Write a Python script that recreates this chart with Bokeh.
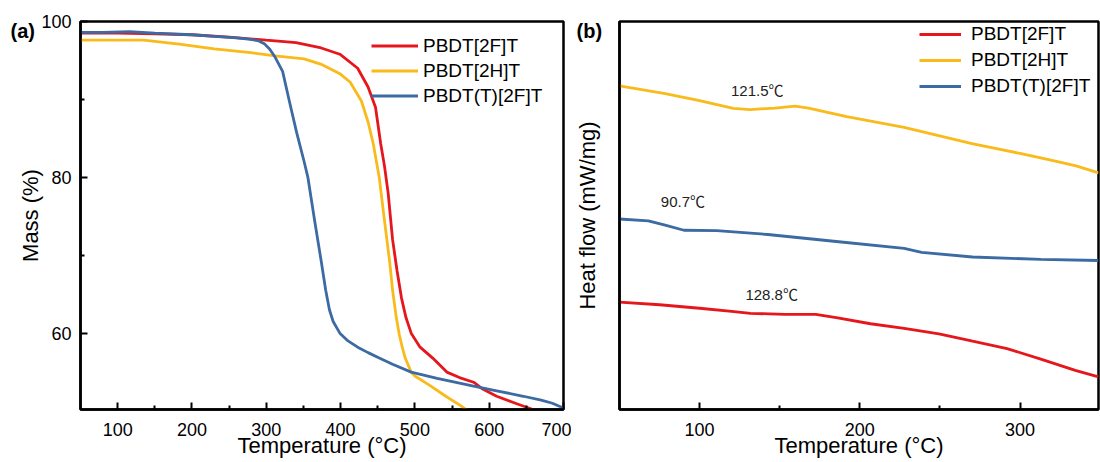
from bokeh.plotting import figure
from bokeh.layouts import row
from bokeh.models import (Legend, LegendItem, LabelSet, FixedTicker,
                          Range1d, ColumnDataSource)
from bokeh.core.properties import value
from bokeh.embed import file_html
from bokeh.resources import INLINE

FONT = "Liberation Sans"

# ---------------- data: (a) TGA ----------------
series_names = ["PBDT[2F]T", "PBDT[2H]T", "PBDT(T)[2F]T"]
series_colors = ["#E5171C", "#F9BB1B", "#3C6AA3"]
panel_tags = ["(a)", "(b)"]

tga_T_2F = [50, 100, 150, 200, 250, 300, 340, 374, 399, 423, 437, 447, 454, 459,
            464, 470, 476, 482, 488, 495, 507, 524, 543, 560, 579, 590, 610, 638, 656, 665]
tga_M_2F = [98.5, 98.5, 98.4, 98.3, 98.0, 97.6, 97.3, 96.6, 95.8, 94.0, 91.6, 89.0, 84.3, 81.5,
            78.0, 72.0, 68.0, 64.5, 62.0, 60.0, 58.2, 56.8, 55.0, 54.3, 53.7, 52.9, 51.9, 50.9, 50.3, 49.9]

tga_T_2H = [50, 100, 135, 183, 230, 279, 312, 351, 374, 399, 413, 428, 437, 444, 449,
            452, 459, 466, 470, 475, 479, 483, 487, 495, 500, 520, 540, 560, 572]
tga_M_2H = [97.6, 97.6, 97.6, 97.1, 96.5, 96.0, 95.6, 95.2, 94.5, 93.3, 92.2, 89.8, 87.1, 84.3, 81.6,
            80.0, 74.5, 69.2, 65.5, 62.0, 59.8, 58.2, 56.8, 55.0, 54.5, 53.3, 52.0, 50.8, 50.0]

tga_T_T2F = [50, 80, 116, 150, 200, 230, 260, 279, 290, 298, 305, 312, 322, 331, 341, 351,
             356, 365, 374, 380, 385, 390, 399, 410, 423, 437, 452, 470, 495, 530, 560,
             579, 610, 646, 670, 685, 700]
tga_M_T2F = [98.6, 98.6, 98.7, 98.5, 98.3, 98.1, 97.9, 97.7, 97.5, 97.1, 96.4, 95.4, 93.6, 89.8, 85.7, 82.0,
             80.0, 74.5, 69.2, 65.5, 63.0, 61.5, 60.0, 59.0, 58.2, 57.5, 56.8, 56.0, 55.0, 54.2, 53.6,
             53.2, 52.6, 51.9, 51.4, 51.0, 50.4]

tga_x_ticks = [100, 200, 300, 400, 500, 600, 700]
tga_x_minor = [150, 250, 350, 450, 550, 650]
tga_y_ticks = [60, 80, 100]
tga_y_minor = [70, 90]

# ---------------- data: (b) DSC (arbitrary heat-flow units) ----------------
dsc_T_2F = [50, 75, 100, 120, 131.7, 153.3, 172.5, 185.3, 206.7, 227.7, 249.4, 270.4, 291.9, 313, 334.5, 349]
dsc_H_2F = [2.77, 2.70, 2.61, 2.53, 2.48, 2.45, 2.45, 2.37, 2.21, 2.09, 1.95, 1.76, 1.57, 1.30, 1.01, 0.84]

dsc_T_2H = [50, 78.5, 100, 121, 131.7, 147, 159.6, 168, 191.8, 227.7, 270, 300, 320, 335, 349]
dsc_H_2H = [8.34, 8.14, 7.96, 7.76, 7.73, 7.77, 7.82, 7.77, 7.55, 7.27, 6.85, 6.60, 6.42, 6.28, 6.10]

dsc_T_T2F = [50, 68, 78.5, 90.2, 110.7, 142.6, 185.3, 227.7, 238.6, 270.4, 313, 349]
dsc_H_T2F = [4.91, 4.86, 4.75, 4.62, 4.61, 4.51, 4.33, 4.15, 4.05, 3.93, 3.87, 3.84]

dsc_x_ticks = [100, 200, 300]
dsc_x_minor = [150, 250]

anno_text = ["121.5\u2103", "90.7\u2103", "128.8\u2103"]
anno_T = [136, 89.6, 145]
anno_H = [8.22, 5.37, 2.97]


def style_axes(p, tag, tag_offset):
    p.xgrid.visible = False
    p.ygrid.visible = False
    p.outline_line_color = "black"
    p.outline_line_width = 2.5
    p.outline_line_alpha = 1.0
    p.background_fill_color = None
    p.border_fill_color = None
    for ax in (p.xaxis[0], p.yaxis[0]):
        ax.axis_line_width = 2.5
        ax.axis_line_color = "black"
        ax.major_tick_line_width = 2
        ax.minor_tick_line_width = 2
        ax.major_tick_line_color = "black"
        ax.minor_tick_line_color = "black"
        ax.major_tick_in = 7
        ax.major_tick_out = 0
        ax.minor_tick_in = 4
        ax.minor_tick_out = 0
        ax.major_label_text_font = FONT
        ax.major_label_text_font_size = "18px"
        ax.major_label_text_color = "black"
        ax.axis_label_text_font = FONT
        ax.axis_label_text_font_size = "22px"
        ax.axis_label_text_font_style = "normal"
        ax.axis_label_text_color = "black"
    # panel tag "(a)" / "(b)" drawn as the title, pulled left of the frame
    p.title.text = tag
    p.title.align = "left"
    p.title.offset = tag_offset
    p.title.standoff = -40
    p.title.vertical_align = "bottom"
    p.title.text_font = FONT
    p.title.text_font_size = "20px"
    p.title.text_font_style = "bold"
    p.title.text_color = "black"


# ---------------- panel (a) ----------------
pa = figure(width=571, height=462, x_range=Range1d(50, 700), y_range=Range1d(50.2, 100),
            output_backend="svg", toolbar_location=None,
            min_border_left=80, min_border_right=8, min_border_top=21, min_border_bottom=53)
style_axes(pa, panel_tags[0], -70)
pa.xaxis[0].ticker = FixedTicker(ticks=tga_x_ticks, minor_ticks=tga_x_minor)
pa.yaxis[0].ticker = FixedTicker(ticks=tga_y_ticks, minor_ticks=tga_y_minor)
pa.xaxis[0].axis_label = "Temperature (\u00b0C)"
pa.yaxis[0].axis_label = "Mass (%)"
pa.xaxis[0].major_label_standoff = 13
pa.xaxis[0].axis_label_standoff = -6
pa.yaxis[0].major_label_standoff = 9
pa.yaxis[0].axis_label_standoff = -5

ra = []
for T, M, c in zip([tga_T_2F, tga_T_2H, tga_T_T2F], [tga_M_2F, tga_M_2H, tga_M_T2F], series_colors):
    ra.append(pa.line(T, M, line_color=c, line_width=2.8))

leg_a = Legend(items=[LegendItem(label=n, renderers=[r]) for n, r in zip(series_names, ra)],
               location=(291, 301), orientation="vertical")
pa.add_layout(leg_a)

# ---------------- panel (b) ----------------
pb = figure(width=529, height=462, x_range=Range1d(50, 349), y_range=Range1d(0, 10),
            output_backend="svg", toolbar_location=None,
            min_border_left=46, min_border_right=2, min_border_top=21, min_border_bottom=53)
style_axes(pb, panel_tags[1], -43)
pb.xaxis[0].ticker = FixedTicker(ticks=dsc_x_ticks, minor_ticks=dsc_x_minor)
pb.yaxis[0].ticker = FixedTicker(ticks=[], minor_ticks=[])
pb.yaxis[0].major_label_standoff = 0
pb.xaxis[0].axis_label = "Temperature (\u00b0C)"
pb.yaxis[0].axis_label = "Heat flow (mW/mg)"
pb.xaxis[0].major_label_standoff = 13
pb.xaxis[0].axis_label_standoff = -6
pb.yaxis[0].axis_label_standoff = 20

rb = []
for T, H, c in zip([dsc_T_2F, dsc_T_2H, dsc_T_T2F], [dsc_H_2F, dsc_H_2H, dsc_H_T2F], series_colors):
    rb.append(pb.line(T, H, line_color=c, line_width=2.8))

leg_b = Legend(items=[LegendItem(label=n, renderers=[r]) for n, r in zip(series_names, rb)],
               location=(300, 310), orientation="vertical")
pb.add_layout(leg_b)

for leg, gw, st, lh in ((leg_a, 47, 5, 25), (leg_b, 42, 10, 26)):
    leg.label_text_font = FONT
    leg.label_text_font_size = "19px"
    leg.label_text_color = "black"
    leg.glyph_width = gw
    leg.glyph_height = lh
    leg.label_height = lh
    leg.label_standoff = st
    leg.spacing = 0
    leg.padding = 0
    leg.margin = 0
    leg.border_line_color = None
    leg.background_fill_alpha = 0

src = ColumnDataSource(dict(x=anno_T, y=anno_H, t=anno_text))
pb.add_layout(LabelSet(x="x", y="y", text="t", source=src,
                       text_font=value("Liberation Sans, Noto Sans CJK SC"),
                       text_font_size=value("15px"), text_color="#222222",
                       text_align="center", text_baseline="middle"))

layout = row(pa, pb)
open("out.html", "w").write(file_html(layout, INLINE))
